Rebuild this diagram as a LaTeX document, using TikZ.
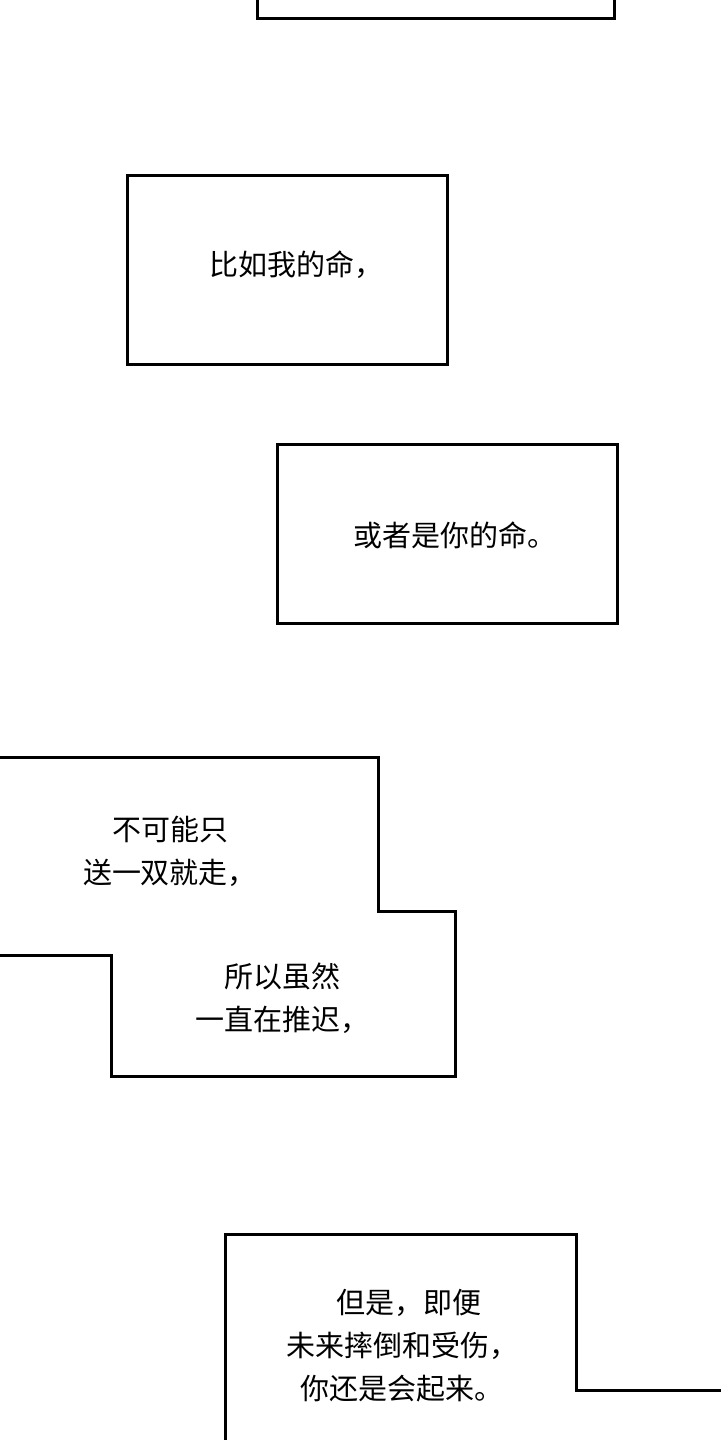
\documentclass[tikz,border=0pt]{standalone}
\usepackage{fontspec}
\setmainfont{Noto Sans CJK SC}
\begin{document}
\begin{tikzpicture}[x=0.5pt,y=-0.5pt,
  frame/.style={draw=black,line width=1.5pt,fill=white},
  txt/.style={font=\fontsize{14.5pt}{21.5pt}\selectfont,align=center,inner sep=0pt}]
\fill[white] (0,0) rectangle (720,1440);
\useasboundingbox (0,0) rectangle (720,1440);
\draw[frame] (257,-10) rectangle (614,18);
\draw[frame] (127,175) rectangle (447,364);
\node[txt] (t1) at (296,265) {比如我的命，};
\draw[frame] (277,444) rectangle (617,623);
\node[txt] (t2) at (455,535) {或者是你的命。};
\draw[frame] (-10,757) -- (378,757) -- (378,911) -- (455,911) -- (455,1076) -- (111,1076) -- (111,955) -- (-10,955);
\node[txt] (t3) at (170,851) {不可能只\\送一双就走，};
\node[txt] (t4) at (282,998) {所以虽然\\一直在推迟，};
\draw[frame] (225,1450) -- (225,1234) -- (576,1234) -- (576,1390) -- (730,1390);
\node[txt] (t5) at (402,1346) {\ \ 但是，即便\\未来摔倒和受伤，\\你还是会起来。};
\end{tikzpicture}
\end{document}
